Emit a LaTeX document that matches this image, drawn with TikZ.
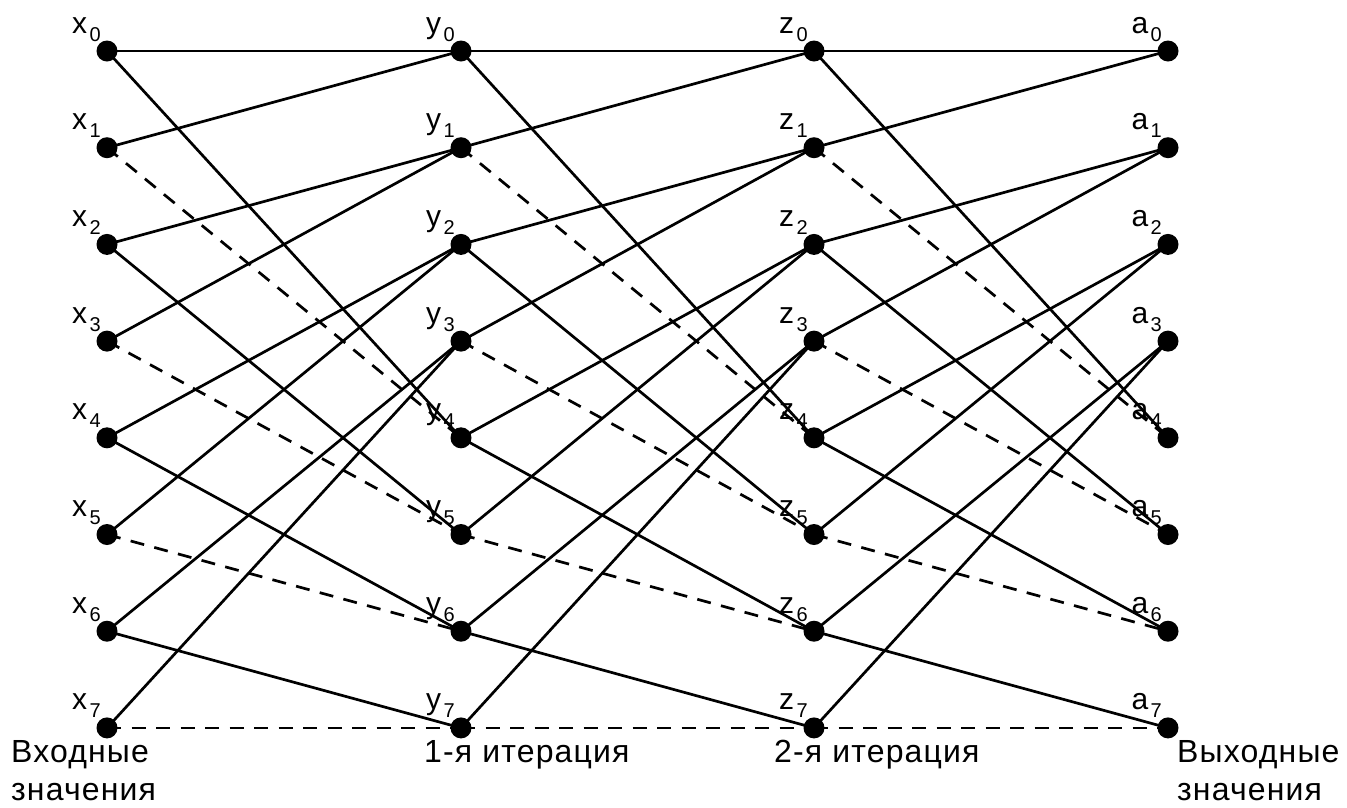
\documentclass[tikz,border=0pt]{standalone}
\usepackage{fontspec}
\setmainfont{Liberation Sans}
\usetikzlibrary{backgrounds}
\begin{document}
\begin{tikzpicture}[x=1pt,y=-1pt,
  dot/.style={circle,fill=black,inner sep=0pt,minimum size=21pt},
  conn/.style={line width=2.7pt},
  neg/.style={conn,dash pattern=on 14pt off 10.5pt},
  lbl/.style={anchor=base east,inner sep=0pt,font=\fontsize{30}{30}\selectfont},
  capt/.style={anchor=base west,inner sep=0pt,font=\fontsize{32}{32}\selectfont\addfontfeature{LetterSpace=3.6}}]
\useasboundingbox (0,0) rectangle (1347,807);
% nodes
\foreach \n/\xx in {x/107,y/461,z/814,a/1168}{
  \foreach \r in {0,...,7}{
    \pgfmathsetmacro{\yy}{51+\r*96.7}
    \node[dot] (\n\r) at (\xx,\yy) {};
    \node[lbl] (l\n\r) at ([shift={(-6,-18)}]\n\r.center) {\n\kern2.5pt\raisebox{-8pt}{\fontsize{20}{20}\selectfont\r}};
  }
}
% connectors
\begin{scope}[on background layer]
\foreach \A/\B in {x/y,y/z,z/a}{
  \foreach \i in {0,...,3}{
    \pgfmathtruncatemacro{\e}{2*\i}
    \pgfmathtruncatemacro{\o}{2*\i+1}
    \pgfmathtruncatemacro{\j}{\i+4}
    \draw[conn] (\A\e.center) -- (\B\i.center);
    \draw[conn] (\A\o.center) -- (\B\i.center);
    \draw[conn] (\A\e.center) -- (\B\j.center);
    \draw[neg] (\A\o.center) -- (\B\j.center);
  }
}
\end{scope}
% captions
\node[capt] (c1) at (11,762) {Входные};
\node[capt] (c2) at (11,800) {значения};
\node[capt] (c3) at (424,762) {1-я итерация};
\node[capt] (c4) at (774,762) {2-я итерация};
\node[capt] (c5) at (1177,762) {Выходные};
\node[capt] (c6) at (1177,800) {значения};
\end{tikzpicture}
\end{document}
